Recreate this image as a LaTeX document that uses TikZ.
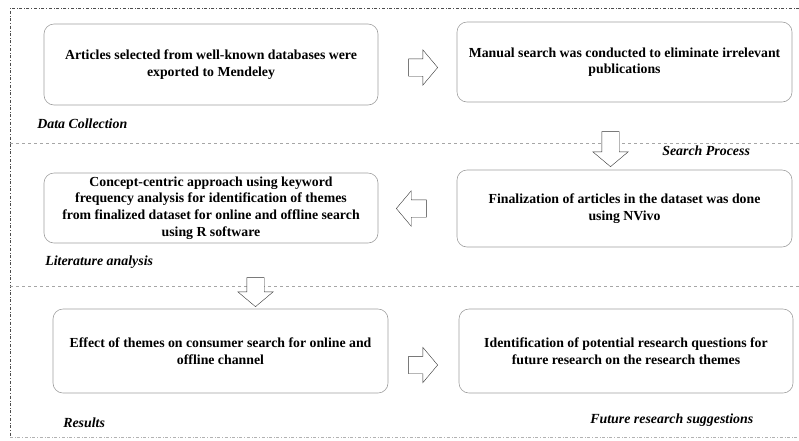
\documentclass[tikz,border=0pt]{standalone}
\usepackage{fontspec}
\setmainfont{Liberation Serif}
\usetikzlibrary{shapes.arrows,calc,positioning}

\begin{document}
\begin{tikzpicture}[
            x = 1pt, y = -1pt, % pixel-like units, y grows downwards
            semithick % line style
        ]

        \tikzstyle{stage}=[
            draw = gray!75,
            rounded corners = 10pt,
            align = center,
            inner sep = 0pt,
            font = \fontsize{13.8}{16.6}\selectfont\bfseries
        ]
        \tikzstyle{phase}=[
            inner sep = 0pt,
            anchor = west,
            font = \fontsize{13.9}{16}\selectfont\bfseries\itshape
        ]
        \tikzstyle{bigarrow}=[
            draw = black!80,
            thin,
            fill = white,
            single arrow,
            single arrow head extend = 9pt,
            single arrow tip angle = 100,
            inner xsep = 0pt,
            inner ysep = 8.5pt
        ]
        \tikzstyle{sep}=[draw = gray!70, thin, dashed]
        \tikzstyle{frame}=[draw = black!70, thin, dash dot]

        \useasboundingbox (0,0) rectangle (799,440);

        % frame and separators
        \draw[frame] (799,8) -| (10,437);
        \draw[frame, draw = gray!60] (10,437) -- (799,437);
        \draw[sep] (10,143) -- (799,143);
        \draw[sep] (10,286) -- (799,286);

        % stages
        \node[stage, minimum width = 334pt, minimum height = 81pt] (collect) at (211,64.5)
            {Articles selected from well-known databases were\\exported to Mendeley};
        \node[stage, minimum width = 335pt, minimum height = 80pt] (manual) at (624.5,62)
            {Manual search was conducted to eliminate irrelevant\\publications};
        \node[stage, minimum width = 334pt, minimum height = 70pt] (concept) at (211,208)
            {Concept-centric approach using keyword\\frequency analysis for identification of themes\\from finalized dataset for online and offline search\\using R software};
        \node[stage, minimum width = 335pt, minimum height = 77pt] (nvivo) at (624.5,208.5)
            {Finalization of articles in the dataset was done\\using NVivo};
        \node[stage, minimum width = 335pt, minimum height = 84pt] (effect) at (220.5,351)
            {Effect of themes on consumer search for online and\\offline channel};
        \node[stage, minimum width = 334pt, minimum height = 84pt] (future) at (626,351)
            {Identification of potential research questions for\\future research on the research themes};

        % block arrows
        \node[bigarrow, minimum height = 29pt] (a1) at (419.5,67.5) {};
        \node[bigarrow, minimum height = 35pt, rotate = -90] (a2) at (610.5,145.5) {};
        \node[bigarrow, minimum height = 30pt, rotate = 180] (a3) at (415,208.5) {};
        \node[bigarrow, minimum height = 29pt, rotate = -90] (a4) at (255.5,288.5) {};
        \node[bigarrow, minimum height = 29pt] (a5) at (419.5,365) {};

        % phase labels
        \node[phase] (datacoll) at (37,124) {Data Collection};
        \node[phase] (searchp) at (662,151) {Search Process};
        \node[phase] (litana) at (45,262) {Literature analysis};
        \node[phase] (results) at (63,423) {Results};
        \node[phase] (futsug) at (590,420) {Future research suggestions};

    \end{tikzpicture}
\end{document}
